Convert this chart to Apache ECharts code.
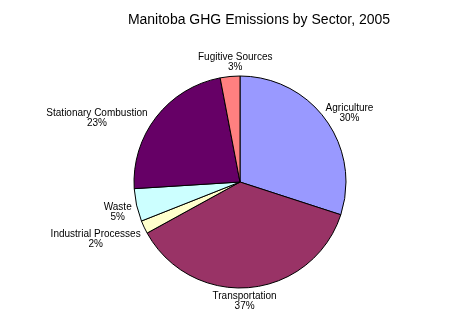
<!DOCTYPE html>
<html>
<head>
<meta charset="utf-8">
<script src="https://cdn.jsdelivr.net/npm/echarts@6/dist/echarts.min.js"></script>
<style>
  html, body { margin: 0; padding: 0; background: #fff; }
  #chart { width: 450px; height: 310px; }
</style>
</head>
<body>
<div id="chart"></div>
<script>
// sectors, clockwise from 12 o'clock
var sectors = ["Agriculture", "Transportation", "Industrial Processes", "Waste", "Stationary Combustion", "Fugitive Sources"];
var shares = [30, 37, 2, 5, 23, 3];
var colors = ["#9999ff", "#993366", "#ffffcc", "#ccffff", "#660066", "#ff8080"];

// Excel-style label placement: small nudges from echarts' outside spot
var labelNudge = [[-10, -3], [-43, 8], [7, 10], [6, 6], [1, 5], [48, -8]];

var chart = echarts.init(document.getElementById("chart"));

var pieData = sectors.map(function (name, i) {
  return { name: name, value: shares[i], itemStyle: { color: colors[i] } };
});

chart.setOption({
  animation: false,
  title: {
    text: "Manitoba GHG Emissions by Sector, 2005",
    left: 254,
    top: 8,
    textAlign: "center",
    textStyle: {
      fontFamily: "Liberation Sans",
      fontSize: 14,
      fontWeight: "normal",
      color: "#000"
    }
  },
  series: [
    {
      type: "pie",
      center: [240, 182],
      radius: 106,
      startAngle: 90,
      clockwise: true,
      itemStyle: { borderColor: "#000", borderWidth: 1 },
      label: {
        show: true,
        position: "outside",
        formatter: "{b}\n{c}%",
        fontFamily: "Liberation Sans",
        fontSize: 10,
        lineHeight: 10,
        color: "#000"
      },
      labelLine: { show: false, length: 6, length2: 0 },
      labelLayout: function (params) {
        var r = params.labelRect;
        var n = labelNudge[params.dataIndex];
        return {
          x: r.x + r.width / 2 + n[0],
          y: r.y + r.height / 2 + n[1],
          align: "center",
          verticalAlign: "middle"
        };
      },
      emphasis: { disabled: true },
      data: pieData
    }
  ]
});
</script>
</body>
</html>
